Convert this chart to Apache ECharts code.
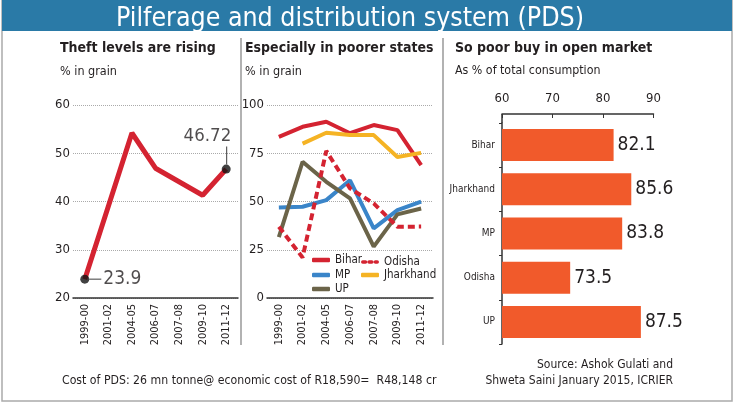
<!DOCTYPE html>
<html>
<head>
<meta charset="utf-8">
<script src="https://cdn.jsdelivr.net/npm/echarts@6/dist/echarts.min.js"></script>
<style>
html,body{margin:0;padding:0;background:#fff;}
#c{width:734px;height:406px;}
</style>
</head>
<body>
<div id="c"></div>
<script>
// ---- data ----
const years = ['1999-00','2001-02','2004-05','2006-07','2007-08','2009-10','2011-12'];
const theft = [23.9, 39.0, 54.2, 46.9, 44.1, 41.3, 46.72];

const bihar     = [83.5, 88.7, 91.3, 85.4, 89.6, 87.0, 68.8];
const odisha    = [36.9, 21.0, 76.2, 56.8, 49.0, 36.9, 37.0];
const mp        = [46.9, 47.3, 50.7, 61.0, 36.1, 45.5, 49.9];
const jharkhand = [null, 80.0, 85.6, 84.4, 84.4, 73.1, 75.2];
const up        = [31.5, 70.6, 60.2, 51.6, 26.6, 43.3, 46.4];

const states = ['Bihar','Jharkhand','MP','Odisha','UP'];
const openMarket = [82.1, 85.6, 83.8, 73.5, 87.5];

const leftTicks = [20, 60, 10];
const midTicks = [0, 100, 25];
const rightTicks = [60, 90, 10];

// ---- chart ----
const FONT = "'Liberation Sans Narrow', 'DejaVu Sans Condensed', 'Roboto Condensed', 'Noto Sans', sans-serif";
const TXT = '#231f20';
const RED = '#d42331';
const chart = echarts.init(document.getElementById('c'), null, {renderer: 'canvas'});

const catAxisBase = {
  type: 'category', data: years, boundaryGap: true,
  axisLine: {show: true, lineStyle: {color: '#333', width: 1.5}},
  axisTick: {show: false},
  axisLabel: {rotate: 90, fontSize: 11, color: TXT, margin: 6, fontFamily: FONT}
};
const valAxisBase = {
  type: 'value',
  axisLine: {show: false}, axisTick: {show: false},
  splitLine: {show: true, lineStyle: {color: '#aaa', type: 'dotted', width: 1}},
  axisLabel: {fontSize: 13, color: TXT, margin: 3, fontFamily: FONT}
};

const lineSeries = (name, data, color, dashed) => ({
  name, type: 'line', xAxisIndex: 1, yAxisIndex: 1, data,
  symbol: 'none', connectNulls: false,
  lineStyle: {color, width: 4, type: dashed ? [7, 4] : 'solid'},
  itemStyle: {color}
});

const SOLID_ICON = 'roundRect';
const DASH_ICON = 'path://M2,0H5A2,2 0 0 1 5,4H2A2,2 0 0 1 2,0Z M9,0H12A2,2 0 0 1 12,4H9A2,2 0 0 1 9,0Z M16,0H18A2,2 0 0 1 18,4H16A2,2 0 0 1 16,0Z';

const legendBase = (name, left, top, icon) => ({
  data: [{name, icon}], left, top, padding: 0, itemWidth: 18, itemHeight: 4.5,
  selectedMode: false,
  textStyle: {fontSize: 11.5, color: TXT, fontFamily: FONT}
});

const option = {
  animation: false,
  textStyle: {fontFamily: FONT},
  title: [
    {text: 'Pilferage and distribution system (PDS)', left: 345, top: 1, textAlign: 'center',
     textStyle: {color: '#fff', fontSize: 26.5, fontWeight: 'normal', fontFamily: FONT}},
    {text: 'Theft levels are rising', left: 60, top: 41, padding: 0,
     textStyle: {color: TXT, fontSize: 14, fontWeight: 'bold', fontFamily: FONT}},
    {text: '% in grain', left: 60, top: 65, padding: 0,
     textStyle: {color: TXT, fontSize: 12.5, fontWeight: 'normal', fontFamily: FONT}},
    {text: 'Especially in poorer states', left: 245, top: 41, padding: 0,
     textStyle: {color: TXT, fontSize: 14, fontWeight: 'bold', fontFamily: FONT}},
    {text: '% in grain', left: 245, top: 65, padding: 0,
     textStyle: {color: TXT, fontSize: 12.5, fontWeight: 'normal', fontFamily: FONT}},
    {text: 'So poor buy in open market', left: 455, top: 41, padding: 0,
     textStyle: {color: TXT, fontSize: 14, fontWeight: 'bold', fontFamily: FONT}},
    {text: 'As % of total consumption', left: 455, top: 65, padding: 0,
     textStyle: {color: TXT, fontSize: 12.3, fontWeight: 'normal', fontFamily: FONT}},
    {text: 'Source: Ashok Gulati and\nShweta Saini January 2015, ICRIER', left: 673, top: 357, padding: 0,
     textAlign: 'right',
     textStyle: {color: TXT, fontSize: 12, fontWeight: 'normal', lineHeight: 16, fontFamily: FONT, align: 'right'}},
    {text: 'Cost of PDS: 26 mn tonne@ economic cost of R18,590=  R48,148 cr', left: 62, top: 375, padding: 0,
     textStyle: {color: TXT, fontSize: 12.2, fontWeight: 'normal', fontFamily: FONT}}
  ],
  legend: [
    legendBase('Bihar', 312, 254, SOLID_ICON),
    legendBase('Odisha', 361, 256, DASH_ICON),
    legendBase('MP', 312, 269, SOLID_ICON),
    legendBase('Jharkhand', 361, 269, SOLID_ICON),
    legendBase('UP', 312, 283, SOLID_ICON)
  ],
  grid: [
    {left: 73, top: 105, width: 165, height: 193},
    {left: 267, top: 105, width: 166, height: 193},
    {left: 502, top: 123, width: 151.5, height: 221}
  ],
  xAxis: [
    Object.assign({}, catAxisBase, {gridIndex: 0}),
    Object.assign({}, catAxisBase, {gridIndex: 1}),
    {gridIndex: 2, type: 'value', position: 'top', offset: 9,
     min: rightTicks[0], max: rightTicks[1], interval: rightTicks[2],
     axisLine: {show: true, lineStyle: {color: '#333', width: 1.5}},
     axisTick: {show: true, inside: true, length: 4, lineStyle: {color: '#333'}},
     splitLine: {show: false},
     axisLabel: {fontSize: 13, color: TXT, margin: 9, fontFamily: FONT}}
  ],
  yAxis: [
    Object.assign({}, valAxisBase, {gridIndex: 0, min: leftTicks[0], max: leftTicks[1], interval: leftTicks[2]}),
    Object.assign({}, valAxisBase, {gridIndex: 1, min: midTicks[0], max: midTicks[1], interval: midTicks[2]}),
    {gridIndex: 2, type: 'category', data: states, inverse: true,
     axisLine: {show: true, lineStyle: {color: '#333', width: 1.5}},
     axisTick: {show: true, length: 3, lineStyle: {color: '#333'}},
     axisLabel: {fontSize: 10, color: TXT, margin: 7, fontFamily: FONT}}
  ],
  series: [
    {name: 'Theft', type: 'line', xAxisIndex: 0, yAxisIndex: 0, data: theft,
     symbol: 'none', lineStyle: {color: RED, width: 5}, itemStyle: {color: RED}, z: 2},
    {name: 'ends', type: 'scatter', xAxisIndex: 0, yAxisIndex: 0,
     data: [
       {value: [0, theft[0]],
        label: {show: true, position: 'right', distance: 0,
                formatter: () => '{l|}{t|' + theft[0] + '}',
                rich: {l: {width: 12, height: 1.2, backgroundColor: '#333'},
                       t: {fontSize: 19, color: TXT, padding: [0, 0, 0, 2], fontFamily: FONT}}}},
       {value: [6, theft[6]],
        label: {show: true, position: 'top', distance: 0, align: 'right', offset: [5, 0],
                formatter: () => '{t|' + theft[6] + '}\n{v|}{s|}',
                rich: {t: {fontSize: 18.5, color: TXT, fontFamily: FONT, lineHeight: 20},
                       v: {width: 1.2, height: 18, backgroundColor: '#333'},
                       s: {width: 4, height: 18}}}}
     ],
     symbol: 'circle', symbolSize: 9, itemStyle: {color: '#111'}, z: 3},
    lineSeries('Bihar', bihar, RED, false),
    lineSeries('Jharkhand', jharkhand, '#f5b324', false),
    lineSeries('MP', mp, '#3a85c9', false),
    lineSeries('UP', up, '#6b6449', false),
    lineSeries('Odisha', odisha, RED, true),
    {name: 'Open market', type: 'bar', xAxisIndex: 2, yAxisIndex: 2, data: openMarket,
     barWidth: 32, itemStyle: {color: '#f15a2b'},
     label: {show: true, position: 'right', distance: 4, fontSize: 19, color: TXT, fontFamily: FONT}}
  ],
  graphic: [
    {type: 'rect', shape: {x: 2, y: 0, width: 730, height: 401}, style: {fill: 'none', stroke: '#aaa', lineWidth: 1.5}, z: 0},
    {type: 'rect', shape: {x: 2, y: 0, width: 730, height: 31}, style: {fill: '#2a7aa7'}, z: 0},
    {type: 'line', shape: {x1: 241, y1: 38, x2: 241, y2: 345}, style: {stroke: '#999', lineWidth: 1.5}},
    {type: 'line', shape: {x1: 443, y1: 38, x2: 443, y2: 345}, style: {stroke: '#999', lineWidth: 1.5}},
    {type: 'line', shape: {x1: 502, y1: 114, x2: 502, y2: 123}, style: {stroke: '#333', lineWidth: 1.5}}
  ]
};
chart.setOption(option);
</script>
</body>
</html>
